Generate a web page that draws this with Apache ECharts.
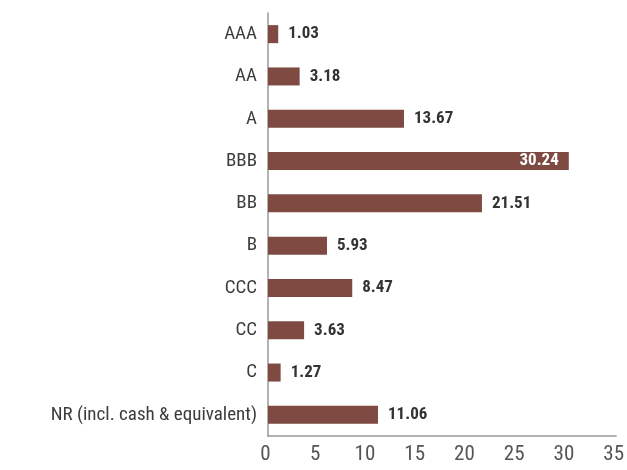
<!DOCTYPE html>
<html><head><meta charset="utf-8">
<script src="https://cdn.jsdelivr.net/npm/echarts@6/dist/echarts.min.js"></script>
<style>html,body{margin:0;padding:0;background:#fff}#c{width:627px;height:470px}</style>
</head><body><div id="c"></div>
<script>
const categories = ["AAA","AA","A","BBB","BB","B","CCC","CC","C","NR (incl. cash & equivalent)"];
const values = [1.03,3.18,13.67,30.24,21.51,5.93,8.47,3.63,1.27,11.06];
const xTicks = [0,5,10,15,20,25,30,35];
const insideIndex = 3;

const FONT = '"Roboto Condensed","DejaVu Sans Condensed",sans-serif';
const chart = echarts.init(document.getElementById('c'));
chart.setOption({
  animation:false,
  grid:{left:268,right:10,top:13,bottom:34,containLabel:false},
  xAxis:{type:'value',min:xTicks[0],max:xTicks[xTicks.length-1],interval:5,
    axisLine:{show:true,lineStyle:{color:'#999',width:1.5}},
    axisTick:{show:false},splitLine:{show:false},
    axisLabel:{color:'#555',fontSize:21,fontFamily:FONT,margin:8,padding:[0,5,0,0]}},
  yAxis:{type:'category',data:categories,inverse:true,
    axisLine:{show:true,lineStyle:{color:'#999',width:1.5}},
    axisTick:{show:false},
    axisLabel:{color:'#3c3c3c',fontSize:19,fontFamily:FONT,margin:11}},
  series:[{type:'bar',barWidth:18,
    data:values.map((v,i)=>({value:v,label:i===insideIndex?{position:'insideRight',color:'#fff',distance:10}:{}})),
    itemStyle:{color:'#7E4A41'},
    label:{show:true,position:'right',distance:10,color:'#333',fontWeight:'bold',fontSize:17,fontFamily:FONT,
      formatter:p=>p.value.toFixed(2)}}]
});
</script></body></html>
